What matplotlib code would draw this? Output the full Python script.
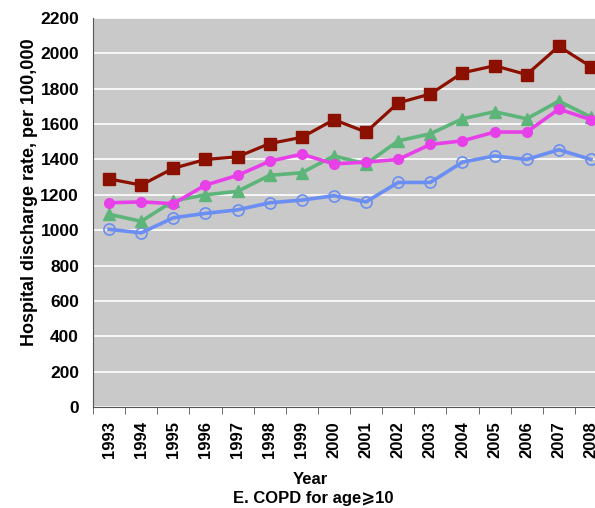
import matplotlib
matplotlib.use("Agg")
import matplotlib.pyplot as plt
import numpy as np

plt.rcParams["font.family"] = ["Liberation Sans", "DejaVu Sans"]

years = [str(y) for y in range(1993, 2009)]
red = [1290, 1255, 1350, 1400, 1415, 1490, 1525, 1625, 1555, 1720, 1770, 1890, 1930, 1880, 2040, 1925]
magenta = [1155, 1160, 1150, 1255, 1310, 1390, 1430, 1375, 1385, 1400, 1485, 1505, 1555, 1555, 1685, 1625]
green = [1090, 1050, 1165, 1200, 1220, 1310, 1325, 1420, 1375, 1505, 1545, 1630, 1670, 1630, 1730, 1640]
blue = [1005, 985, 1070, 1095, 1115, 1155, 1170, 1195, 1160, 1270, 1270, 1385, 1420, 1400, 1455, 1400]

fig = plt.figure(figsize=(5.95, 5.08), dpi=100)
# plot area runs past the right edge, as in the reference
ax = fig.add_axes([93 / 595, 101 / 508, 514 / 595, 389 / 508])
ax.set_facecolor("#c9c9c9")

x = np.arange(len(years))
ax.plot(x, red, color="#8c1000", lw=2.3, marker="s", ms=8, zorder=3)
ax.plot(x, blue, color="#6a8ef2", lw=2.6, marker="o", ms=8, mfc="none", mew=1.2, zorder=3)
ax.plot(x, green, color="#5db57a", lw=2.6, marker="^", ms=8, zorder=3)
ax.plot(x, magenta, color="#e840e8", lw=2.6, marker="o", ms=7, zorder=3)

ax.set_xlim(-0.5, len(years) - 0.5)
ax.set_ylim(0, 2200)
ax.set_yticks(range(0, 2201, 200))
ax.yaxis.grid(True, color="white", lw=1.2)
ax.set_axisbelow(True)
ax.tick_params(axis="y", length=0, labelsize=12.5, pad=10)
for lab in ax.get_yticklabels():
    lab.set_fontweight("bold")

ax.set_xticks(x)
ax.set_xticklabels(years, rotation=90, fontsize=12, fontweight="bold")
ax.set_xticks(np.arange(-0.5, len(years), 1), minor=True)
ax.tick_params(axis="x", which="major", length=0, pad=10)
ax.tick_params(axis="x", which="minor", length=5, color="#555555")

for side in ["top", "right"]:
    ax.spines[side].set_visible(False)
ax.spines["left"].set_color("#555555")
ax.spines["bottom"].set_color("#555555")

fig.text(30 / 595, 1 - 192 / 508, "Hospital discharge rate, per 100,000", rotation=90,
         ha="center", va="center", fontsize=13, fontweight="bold")
fig.text(310 / 595, 1 - 479 / 508, "Year", ha="center", va="center", fontsize=12, fontweight="bold")
fig.text(313 / 595, 1 - 499 / 508, "E. COPD for age\u2a7e10", ha="center", va="center", fontsize=12,
         fontweight="bold")

fig.savefig("out.png", dpi=100)
